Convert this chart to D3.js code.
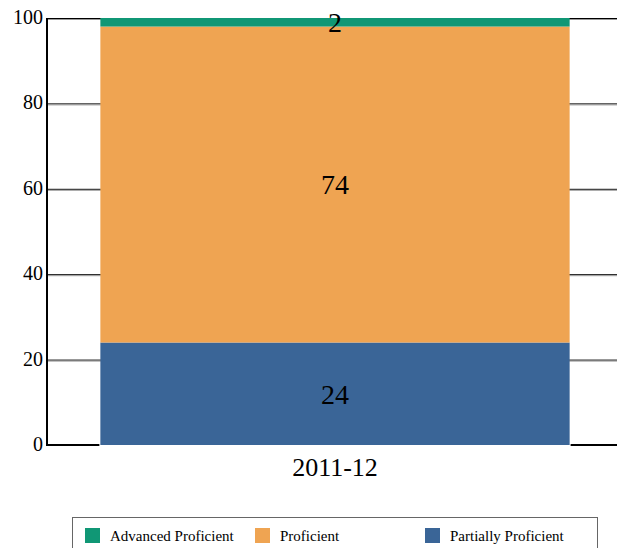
<!DOCTYPE html>
<html>
<head>
<meta charset="utf-8">
<script src="https://cdn.jsdelivr.net/npm/d3@7"></script>
<style>
  body { margin: 0; background: #fff; }
  text { font-family: "Liberation Serif", "Times New Roman", serif; }
</style>
</head>
<body>
<div id="chart"></div>
<script>
// data
const years = ["2011-12"];
const seriesNames = ["Partially Proficient", "Proficient", "Advanced Proficient"];
const partially = [24];
const proficient = [74];
const advanced = [2];
const yTicks = [0, 20, 40, 60, 80, 100];
const colors = { "Advanced Proficient": "#109775", "Proficient": "#EFA452", "Partially Proficient": "#3A6597" };
const legendOrder = ["Advanced Proficient", "Proficient", "Partially Proficient"];

const W = 617, H = 548;
const margin = { top: 18, left: 47, right: -6, bottom: 103 };
const width = W - margin.left - margin.right;
const height = H - margin.top - margin.bottom;

const svg = d3.select("#chart").append("svg")
  .attr("width", W).attr("height", H);
const g = svg.append("g")
  .attr("transform", "translate(" + margin.left + "," + margin.top + ")");

const x = d3.scaleBand().domain(years).range([0, width]).paddingInner(0.1).paddingOuter(0.1);
const y = d3.scaleLinear().domain([0, 100]).range([height, 0]);

// gridlines
g.selectAll(".grid").data(yTicks.filter(d => d > 0)).enter()
  .append("line")
  .attr("x1", 0).attr("x2", width)
  .attr("y1", d => y(d) + 0.5).attr("y2", d => y(d) + 0.5)
  .attr("stroke", "#000").attr("stroke-width", 1);
g.selectAll(".grid2").data(yTicks.filter(d => d > 0)).enter()
  .append("line")
  .attr("x1", 0).attr("x2", width)
  .attr("y1", d => y(d) + 1.5).attr("y2", d => y(d) + 1.5)
  .attr("stroke", "#999").attr("stroke-width", 1);

// stack
const rows = years.map((yr, i) => ({
  year: yr,
  "Partially Proficient": partially[i],
  "Proficient": proficient[i],
  "Advanced Proficient": advanced[i]
}));
const stack = d3.stack().keys(seriesNames)(rows);

stack.forEach(function (s) {
  g.selectAll(null).data(s).enter().append("rect")
    .attr("x", d => x(d.data.year) + 1)
    .attr("width", x.bandwidth() - 2)
    .attr("y", d => y(d[1]))
    .attr("height", d => y(d[0]) - y(d[1]))
    .attr("fill", colors[s.key]);
});

// value labels
stack.forEach(function (s) {
  g.selectAll(null).data(s).enter().append("text")
    .attr("x", d => x(d.data.year) + x.bandwidth() / 2)
    .attr("y", d => (y(d[0]) + y(d[1])) / 2)
    .attr("dy", "0.35em")
    .attr("text-anchor", "middle")
    .style("font-size", "28px")
    .text(d => d[1] - d[0]);
});

// axes lines
g.append("line").attr("x1", 0).attr("x2", 0).attr("y1", 0).attr("y2", height + 1)
  .attr("stroke", "#000").attr("stroke-width", 2);
g.append("line").attr("x1", -1).attr("x2", x(years[0])).attr("y1", height).attr("y2", height)
  .attr("stroke", "#000").attr("stroke-width", 2);
g.append("line").attr("x1", x(years[0]) + x.bandwidth()).attr("x2", width).attr("y1", height).attr("y2", height)
  .attr("stroke", "#000").attr("stroke-width", 2);

// y tick labels
g.selectAll(".ylab").data(yTicks).enter().append("text")
  .attr("x", -4).attr("y", d => y(d))
  .attr("dy", "0.3em")
  .attr("text-anchor", "end")
  .style("font-size", "20px")
  .text(d => d);

// x labels
g.selectAll(".xlab").data(years).enter().append("text")
  .attr("x", d => x(d) + x.bandwidth() / 2)
  .attr("y", height + 31)
  .attr("text-anchor", "middle")
  .style("font-size", "26px")
  .text(d => d);

// legend
svg.append("rect").attr("x", 72.5).attr("y", 517.5).attr("width", 525).attr("height", 40)
  .attr("fill", "none").attr("stroke", "#666").attr("stroke-width", 1);
const lg = svg.selectAll(".legend").data(legendOrder).enter().append("g")
  .attr("transform", (d, i) => "translate(" + (85 + i * 170) + ",528)");
lg.append("rect").attr("width", 15).attr("height", 15).attr("fill", d => colors[d]);
lg.append("text").attr("x", 25).attr("y", 8).attr("dy", "0.35em")
  .style("font-size", "15px").text(d => d);
</script>
</body>
</html>
